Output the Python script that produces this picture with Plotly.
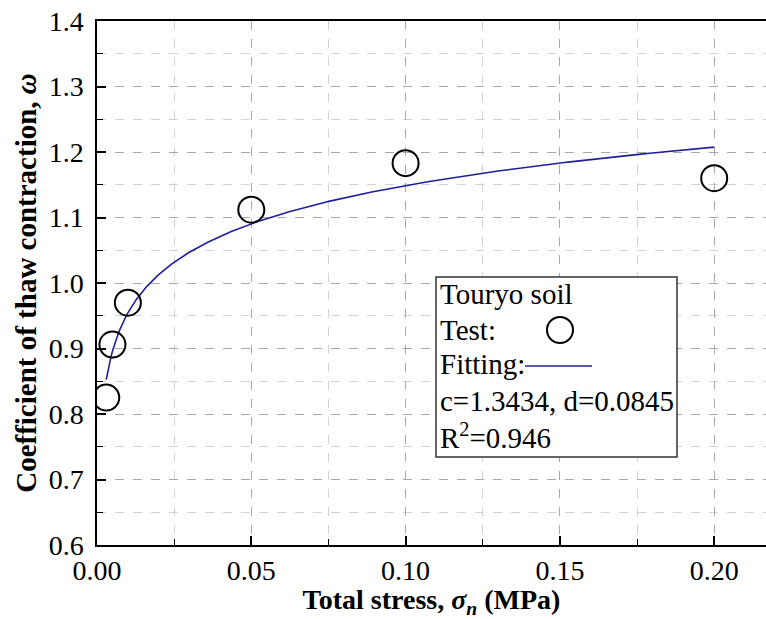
import numpy as np
import plotly.graph_objects as go

# ---- data ----
stress_test = [0.003, 0.005, 0.010, 0.050, 0.100, 0.200]      # MPa
omega_test = [0.825, 0.906, 0.970, 1.112, 1.183, 1.160]
fit_c = 1.3434
fit_d = 0.0845
fit_r2 = 0.946
fit_range = [0.003, 0.200]
x_ticks = [0.00, 0.05, 0.10, 0.15, 0.20]
y_ticks = [0.6, 0.7, 0.8, 0.9, 1.0, 1.1, 1.2, 1.3, 1.4]

fit_x = np.linspace(fit_range[0], fit_range[1], 400)
fit_y = fit_c + fit_d * np.log(fit_x)

FONT = "Liberation Serif"
LINE_COLOR = "#1f1f9c"

fig = go.Figure()
fig.add_trace(go.Scatter(x=fit_x, y=fit_y, mode="lines",
                         line=dict(color=LINE_COLOR, width=1.6),
                         showlegend=False, hoverinfo="skip"))
fig.add_trace(go.Scatter(x=stress_test, y=omega_test, mode="markers",
                         marker=dict(symbol="circle-open", size=26,
                                     color="black", line=dict(width=2, color="black")),
                         showlegend=False))

W, H = 766, 619
L, R, T, B = 97, 0, 21, 74
pw, ph = W - L - R, H - T - B

def px(x):
    return (x - L) / pw

def py(y):
    return (H - B - y) / ph

fig.update_layout(
    width=W, height=H,
    margin=dict(l=L, r=R, t=T, b=B),
    paper_bgcolor="white", plot_bgcolor="white",
    font=dict(family=FONT, color="black", size=28),
    xaxis=dict(
        range=[0, (W - L) / 154.3 * 0.05],
        tickvals=x_ticks, tickformat=".2f",
        ticks="inside", ticklen=9, tickwidth=1.5, tickcolor="black",
        showline=True, linecolor="black", linewidth=1.5, mirror=True,
        showgrid=True, gridcolor="#a8a8a8", gridwidth=1, griddash="dash",
        zeroline=False, ticklabelstandoff=0,
        minor=dict(dtick=0.025, tick0=0, ticks="inside", ticklen=6, tickwidth=1.2,
                   tickcolor="black", showgrid=True, gridcolor="#d2d2d2",
                   gridwidth=1, griddash="dash"),
        title=dict(text="<b>Total stress, <i>σ<sub>n</sub></i> (MPa)</b>",
                   font=dict(size=28, family=FONT), standoff=8),
        tickfont=dict(size=28, family=FONT),
    ),
    yaxis=dict(
        range=[0.6, 1.4],
        tickvals=y_ticks, tickformat=".1f",
        ticks="inside", ticklen=9, tickwidth=1.5, tickcolor="black",
        showline=True, linecolor="black", linewidth=1.5, mirror=False,
        showgrid=True, gridcolor="#a8a8a8", gridwidth=1, griddash="dash",
        zeroline=False, ticklabelstandoff=6,
        minor=dict(dtick=0.05, tick0=0.6, ticks="inside", ticklen=6, tickwidth=1.2,
                   tickcolor="black", showgrid=True, gridcolor="#d2d2d2",
                   gridwidth=1, griddash="dash"),
        title=dict(text="<b>Coefficient of thaw contraction, <i>ω</i></b>",
                   font=dict(size=29, family=FONT), standoff=4),
        tickfont=dict(size=28, family=FONT),
    ),
)

# legend-like info box
box = dict(x0=436, x1=677, y0=277, y1=457)
fig.add_shape(type="rect", xref="paper", yref="paper",
              x0=px(box["x0"]), x1=px(box["x1"]), y0=py(box["y1"]), y1=py(box["y0"]),
              line=dict(color="#333333", width=1.5), fillcolor="white", layer="above")

lines = [("Touryo soil", 294), ("Test:", 330), ("Fitting:", 364),
         (f"c={fit_c}, d={fit_d}", 401), (f"R<sup>2</sup>={fit_r2}", 436)]
for txt, yy in lines:
    fig.add_annotation(text=txt, xref="paper", yref="paper", x=px(438), y=py(yy),
                       xanchor="left", yanchor="middle", showarrow=False,
                       font=dict(size=29, family=FONT, color="black"))

# Test symbol
fig.add_shape(type="circle", xref="paper", yref="paper", xsizemode="pixel", ysizemode="pixel",
              xanchor=px(560), yanchor=py(330), x0=-13, x1=13, y0=-13, y1=13,
              line=dict(color="black", width=2), layer="above")
# Fitting symbol
fig.add_shape(type="line", xref="paper", yref="paper",
              x0=px(525), x1=px(592), y0=py(366), y1=py(366),
              line=dict(color=LINE_COLOR, width=1.5), layer="above")

fig.write_html("out.html")
